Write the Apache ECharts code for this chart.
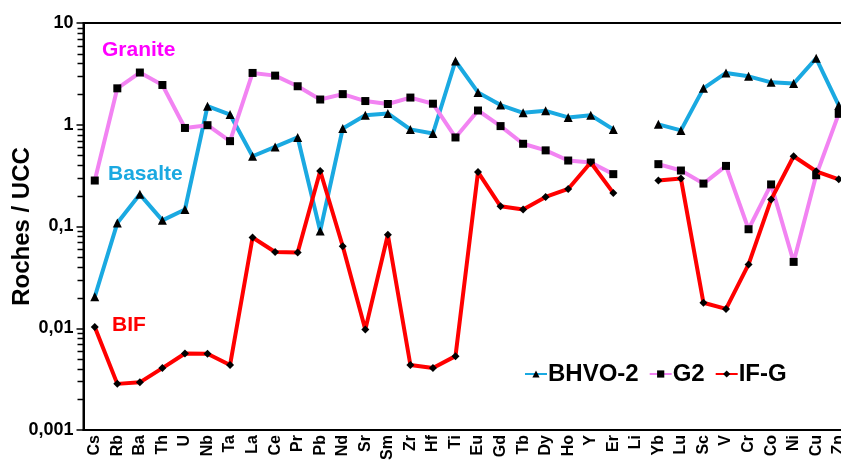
<!DOCTYPE html>
<html>
<head>
<meta charset="utf-8">
<script src="https://cdn.jsdelivr.net/npm/echarts@6/dist/echarts.min.js"></script>
<style>
html, body { margin: 0; padding: 0; background: #fff; }
#main { width: 841px; height: 464px; }
</style>
</head>
<body>
<div id="main"></div>
<script>
var elements = ['Cs','Rb','Ba','Th','U','Nb','Ta','La','Ce','Pr','Pb','Nd','Sr','Sm','Zr','Hf','Ti','Eu','Gd','Tb','Dy','Ho','Y','Er','Li','Yb','Lu','Sc','V','Cr','Co','Ni','Cu','Zn'];

// normalised to UCC
var bhvo2 = [0.0204, 0.108, 0.207, 0.115, 0.147, 1.52, 1.26, 0.49, 0.605, 0.75, 0.0905, 0.918, 1.24, 1.29, 0.90, 0.82, 4.23, 2.08, 1.56, 1.31, 1.37, 1.18, 1.24, 0.90, null, 1.01, 0.88, 2.28, 3.23, 2.99, 2.61, 2.54, 4.50, 1.55];
var g2 = [0.283, 2.28, 3.26, 2.46, 0.93, 0.99, 0.69, 3.23, 3.04, 2.39, 1.77, 2.0, 1.71, 1.60, 1.85, 1.61, 0.75, 1.38, 0.97, 0.65, 0.56, 0.445, 0.425, 0.327, null, 0.41, 0.355, 0.264, 0.394, 0.094, 0.259, 0.0449, 0.319, 1.28];
var ifg = [0.0103, 0.00284, 0.00294, 0.00406, 0.00565, 0.00561, 0.00435, 0.078, 0.0562, 0.0555, 0.351, 0.064, 0.0097, 0.083, 0.00435, 0.00406, 0.00532, 0.343, 0.158, 0.147, 0.195, 0.234, 0.425, 0.214, null, 0.283, 0.296, 0.0178, 0.0155, 0.0424, 0.184, 0.49, 0.349, 0.291];

// minor ticks of the log axis (2..9 in each decade)
var minorTicks = [];
[0.001, 0.01, 0.1, 1].forEach(function (d) {
  for (var k = 2; k <= 9; k++) minorTicks.push(+(d * k).toPrecision(3));
});

var font = 'Liberation Sans, Arial, sans-serif';
var myChart = echarts.init(document.getElementById('main'));
var gridLeft = 83.5;

option = {
  animation: false,
  textStyle: { fontFamily: font },
  grid: {
    left: gridLeft,
    right: -9,
    top: 23,
    bottom: 34,
    containLabel: false,
    outerBoundsMode: 'none',
    show: true,
    borderColor: '#000',
    borderWidth: 2
  },
  legend: {
    data: ['BHVO-2', 'G2', 'IF-G'],
    left: 519,
    top: 357,
    itemWidth: 22,
    itemHeight: 9,
    itemGap: 10,
    textStyle: { fontFamily: font, fontWeight: 'bold', fontSize: 24, color: '#000', padding: [0, 0, 0, -4] }
  },
  xAxis: [{
    type: 'category',
    data: elements,
    boundaryGap: true,
    axisLine: { lineStyle: { color: '#000', width: 2 } },
    axisTick: { inside: true, length: 5, alignWithLabel: false, lineStyle: { color: '#000', width: 1.5 } },
    axisLabel: {
      interval: 0,
      rotate: 90,
      margin: 5,
      color: '#000',
      fontWeight: 'bold',
      fontSize: 16,
      fontFamily: font
    }
  }],
  yAxis: [{
    type: 'log',
    logBase: 10,
    min: 0.001,
    max: 10,
    name: 'Roches / UCC',
    nameLocation: 'middle',
    nameGap: 49,
    nameMoveOverlap: false,
    nameTextStyle: { color: '#000', fontWeight: 'bold', fontSize: 24, fontFamily: font },
    axisLine: { show: true, lineStyle: { color: '#000', width: 2 } },
    axisTick: { show: true, length: 7, lineStyle: { color: '#000', width: 1.5 } },
    splitLine: { show: false },
    axisLabel: {
      color: '#000',
      fontWeight: 'bold',
      fontSize: 18,
      fontFamily: font,
      margin: 10,
      formatter: function (v) { return String(+v.toPrecision(3)).replace('.', ','); }
    }
  }],
  series: [
    {
      name: 'BHVO-2',
      type: 'line',
      data: bhvo2,
      connectNulls: false,
      symbol: 'triangle',
      symbolSize: 9,
      itemStyle: { color: '#000' },
      lineStyle: { color: '#1aa9e1', width: 4 },
      z: 3
    },
    {
      name: 'G2',
      type: 'line',
      data: g2,
      connectNulls: false,
      symbol: 'rect',
      symbolSize: 8,
      itemStyle: { color: '#000' },
      lineStyle: { color: '#f283f2', width: 4 },
      z: 4
    },
    {
      name: 'IF-G',
      type: 'line',
      data: ifg,
      connectNulls: false,
      symbol: 'diamond',
      symbolSize: 8,
      itemStyle: { color: '#000' },
      lineStyle: { color: '#ff0000', width: 4 },
      z: 5
    }
  ]
};

myChart.setOption(option);

// labels in the plot + minor ticks placed through the y axis scale
var graphics = [
  { type: 'text', left: 102, top: 40, style: { text: 'Granite', fill: '#ff00ff', font: 'bold 21px ' + font } },
  { type: 'text', left: 108, top: 164, style: { text: 'Basalte', fill: '#1aa9e1', font: 'bold 21px ' + font } },
  { type: 'text', left: 112, top: 315, style: { text: 'BIF', fill: '#ff0000', font: 'bold 21px ' + font } }
];
minorTicks.forEach(function (v) {
  var y = Math.round(myChart.convertToPixel({ yAxisIndex: 0 }, v)) + 0.5;
  graphics.push({
    type: 'line',
    silent: true,
    z: 100,
    x: 0,
    y: 0,
    shape: { x1: gridLeft - 6, y1: y, x2: gridLeft, y2: y },
    style: { stroke: '#000', lineWidth: 1.5, fill: null }
  });
});
myChart.setOption({ graphic: { elements: graphics } });
</script>
</body>
</html>
